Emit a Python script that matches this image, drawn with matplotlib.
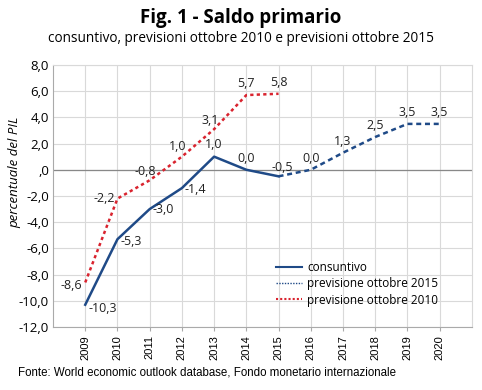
import matplotlib
matplotlib.use("Agg")
import matplotlib.pyplot as plt
from matplotlib.ticker import FixedLocator, FuncFormatter

years = list(range(2009, 2021))
cons_years = [2009, 2010, 2011, 2012, 2013, 2014, 2015]
consuntivo = [-10.3, -5.3, -3.0, -1.4, 1.0, 0.0, -0.5]
prev15_years = [2015, 2016, 2017, 2018, 2019, 2020]
prev2015 = [-0.5, 0.0, 1.3, 2.5, 3.5, 3.5]
prev10_years = [2009, 2010, 2011, 2012, 2013, 2014, 2015]
prev2010 = [-8.6, -2.2, -0.8, 1.0, 3.1, 5.7, 5.8]

title = "Fig. 1 - Saldo primario"
subtitle = "consuntivo, previsioni ottobre 2010 e previsioni ottobre 2015"
ylabel = "percentuale del PIL"
source = "Fonte: World economic outlook database, Fondo monetario internazionale"
legend_labels = ["consuntivo", "previsione ottobre 2015", "previsione ottobre 2010"]

BLUE = "#1f4a87"
RED = "#d9232e"

plt.rcParams['font.family'] = ['Open Sans', 'DejaVu Sans']

fig = plt.figure(figsize=(4.82, 3.9), dpi=100)
ax = fig.add_axes([0.110, 0.1615, 0.869, 0.672])

ax.plot(cons_years, consuntivo, color=BLUE, lw=1.8, zorder=3)
ax.plot(prev15_years, prev2015, color=BLUE, lw=1.8, ls=(0, (2, 1.5)), zorder=3)
ax.plot(prev10_years, prev2010, color=RED, lw=1.8, ls=(0, (1.3, 1.3)), zorder=3)

def fmt(v):
    return ("%.1f" % v).replace(".", ",")

lab_fs = 9
txt_col = '#222222'
cons_off = [(2, -3), (2, -2), (2, 0), (2, -1), (0, 9), (0, 8)]
cons_ha = ['left', 'left', 'left', 'left', 'center', 'center']
for x, y, o, ha in zip(cons_years[:-1], consuntivo[:-1], cons_off, cons_ha):
    ax.annotate(fmt(y), (x, y), xytext=o, textcoords='offset points',
                ha=ha, va='center', fontsize=lab_fs, color=txt_col)
p15_off = [(3, 6), (0, 8), (0, 8), (0, 8), (0, 8), (0, 8)]
for x, y, o in zip(prev15_years, prev2015, p15_off):
    ax.annotate(fmt(y), (x, y), xytext=o, textcoords='offset points',
                ha='center', va='center', fontsize=lab_fs, color=txt_col)
p10_off = [(-2, -2), (-2, 0), (-3, 6), (-3, 7), (-3, 6), (0, 8), (0, 8)]
p10_ha = ['right', 'right', 'center', 'center', 'center', 'center', 'center']
for x, y, o, ha in zip(prev10_years, prev2010, p10_off, p10_ha):
    ax.annotate(fmt(y), (x, y), xytext=o, textcoords='offset points',
                ha=ha, va='center', fontsize=lab_fs, color=txt_col)

ax.set_xlim(2008, 2021)
ax.set_ylim(-12, 8)
ax.xaxis.set_major_locator(FixedLocator(years))
ax.set_xticklabels([str(y) for y in years], rotation=90, fontsize=8,
                   family=['Liberation Sans', 'DejaVu Sans'])
ax.yaxis.set_major_locator(FixedLocator(list(range(-12, 9, 2))))
def yfmt(v, pos):
    if abs(v) < 1e-9:
        return ",0"
    return ("%.1f" % v).replace(".", ",")
ax.yaxis.set_major_formatter(FuncFormatter(yfmt))
ax.tick_params(axis='y', labelsize=9.5, length=0, pad=3)
ax.tick_params(axis='x', length=3, color='#aaaaaa', pad=3)

ax.grid(True, color='#d9d9d9', lw=0.8)
ax.set_axisbelow(True)
ax.axhline(0, color='#888888', lw=0.9, zorder=1)
for s in ['top', 'right']:
    ax.spines[s].set_color('#d9d9d9')
for s in ['left', 'bottom']:
    ax.spines[s].set_color('#aaaaaa')

ax.set_ylabel(ylabel, fontstyle='italic', fontsize=9.5)
ax.yaxis.set_label_coords(-0.075, 0.59)

h1, = ax.plot([], [], color=BLUE, lw=1.5)
h2, = ax.plot([], [], color=BLUE, lw=1.0, ls=(0, (1, 1)))
h3, = ax.plot([], [], color=RED, lw=1.5, ls=(0, (1, 1)))
ax.legend([h1, h2, h3], legend_labels, loc='lower left',
          bbox_to_anchor=(0.52, 0.06), frameon=False, fontsize=8.5,
          handlelength=2.2, handletextpad=0.5, labelspacing=0.28,
          borderaxespad=0)

fig.text(0.5, 0.955, title, ha='center', va='center', fontsize=13.5, fontweight='bold')
fig.text(0.5, 0.902, subtitle, ha='center', va='center', fontsize=9.8)
fig.text(0.037, 0.046, source, ha='left', va='center', fontsize=8.3,
         family=['Liberation Sans', 'DejaVu Sans'])

fig.savefig("out.png", dpi=100)
